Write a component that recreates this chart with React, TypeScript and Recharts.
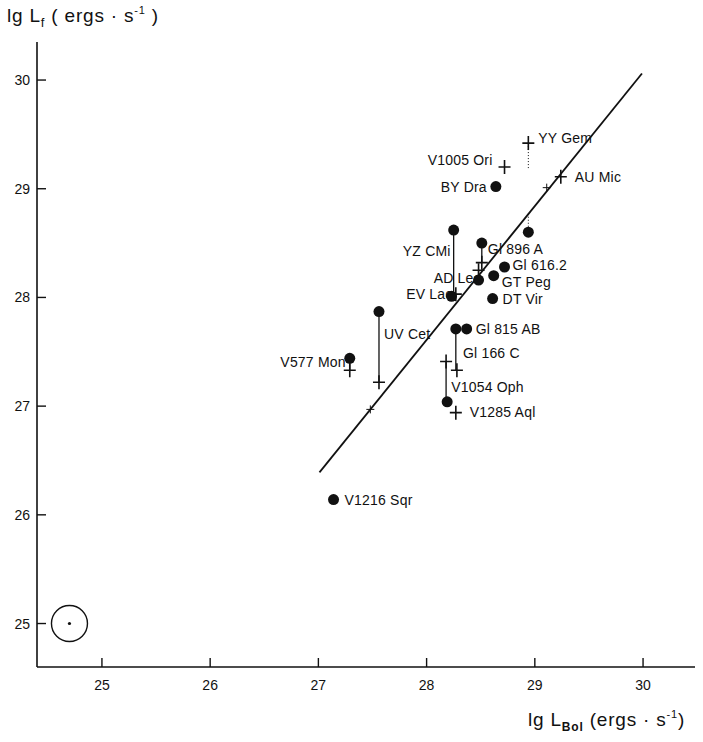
import React from "react";
import {
  ScatterChart,
  Scatter,
  XAxis,
  YAxis,
  ReferenceLine,
  Label,
} from "recharts";

// lg L_Bol (x) vs lg L_f (y)
const circleNames = [
  "BY Dra", "AU Mic", "YZ CMi", "Gl 896 A", "Gl 616.2", "AD Leo", "GT Peg",
  "EV Lac", "DT Vir", "UV Cet", "Gl 166 C", "Gl 815 AB", "V577 Mon",
  "V1054 Oph", "V1216 Sqr",
];
const circleX = [
  28.64, 28.94, 28.25, 28.51, 28.72, 28.48, 28.62,
  28.23, 28.61, 27.56, 28.27, 28.37, 27.29,
  28.19, 27.14,
];
const circleY = [
  29.02, 28.6, 28.62, 28.5, 28.28, 28.16, 28.2,
  28.01, 27.99, 27.87, 27.71, 27.71, 27.44,
  27.04, 26.14,
];

const crossNames = [
  "YY Gem", "V1005 Ori", "AU Mic", "Gl 896 A", "AD Leo", "EV Lac", "UV Cet",
  "V577 Mon", "Gl 166 C", "V1054 Oph", "V1285 Aql",
];
const crossX = [28.94, 28.72, 29.24, 28.51, 28.48, 28.27, 27.56, 27.29, 28.28, 28.18, 28.27];
const crossY = [29.42, 29.2, 29.11, 28.32, 28.25, 28.03, 27.22, 27.33, 27.33, 27.41, 26.94];

// small marks sitting on the regression line
const lineMarkX = [27.48, 29.11];
const lineMarkY = [26.97, 29.01];

// regression line end points
const fitX = [27.01, 29.99];
const fitY = [26.39, 30.06];

// vertical links between a star's circle and its cross
const linkNames = ["YZ CMi", "Gl 896 A", "AD Leo", "UV Cet", "Gl 166 C", "V1054 Oph", "V577 Mon", "YY Gem", "AU Mic"];
const linkX = [28.25, 28.51, 28.48, 27.56, 28.27, 28.18, 27.29, 28.94, 28.94];
const linkTop = [28.62, 28.5, 28.25, 27.87, 27.71, 27.41, 27.44, 29.42, 28.77];
const linkBottom = [28.0, 28.32, 28.16, 27.22, 27.33, 27.04, 27.33, 29.19, 28.6];
const linkDotted = ["YY Gem", "AU Mic"];

const xTicks = [25, 26, 27, 28, 29, 30];
const yTicks = [25, 26, 27, 28, 29, 30];

const circleData = circleNames.map((name, i) => ({ name, x: circleX[i], y: circleY[i] }));
const crossData = crossNames.map((name, i) => ({ name, x: crossX[i], y: crossY[i] }));
const lineMarkData = lineMarkX.map((x, i) => ({ x, y: lineMarkY[i] }));
const errorData = [{ x: 24.7, y: 25 }];

// label placement, keyed by marker kind + name
const labelPos: Record<string, { dx: number; dy: number; anchor: "start" | "end" }> = {
  "c:BY Dra": { dx: -9, dy: 5, anchor: "end" },
  "c:YZ CMi": { dx: -3, dy: 26, anchor: "end" },
  "c:Gl 896 A": { dx: 6, dy: 11, anchor: "start" },
  "c:Gl 616.2": { dx: 8, dy: 3, anchor: "start" },
  "c:AD Leo": { dx: 3, dy: 3, anchor: "end" },
  "c:GT Peg": { dx: 8, dy: 11, anchor: "start" },
  "c:EV Lac": { dx: 1, dy: 3, anchor: "end" },
  "c:DT Vir": { dx: 10, dy: 5, anchor: "start" },
  "c:UV Cet": { dx: 5, dy: 27, anchor: "start" },
  "c:Gl 815 AB": { dx: 9, dy: 5, anchor: "start" },
  "c:V577 Mon": { dx: -4, dy: 9, anchor: "end" },
  "c:V1054 Oph": { dx: 4, dy: -10, anchor: "start" },
  "c:V1216 Sqr": { dx: 11, dy: 5, anchor: "start" },
  "x:YY Gem": { dx: 10, dy: 0, anchor: "start" },
  "x:V1005 Ori": { dx: -12, dy: -2, anchor: "end" },
  "x:AU Mic": { dx: 14, dy: 5, anchor: "start" },
  "x:Gl 166 C": { dx: 6, dy: -12, anchor: "start" },
  "x:V1285 Aql": { dx: 14, dy: 4, anchor: "start" },
};

const FONT = "'Liberation Sans', Arial, sans-serif";
const INK = "#111";

function StarLabel({ id, cx, cy, name }: { id: string; cx: number; cy: number; name: string }) {
  const p = labelPos[id + ":" + name];
  if (!p) return null;
  return (
    <text
      x={cx + p.dx}
      y={cy + p.dy}
      textAnchor={p.anchor}
      fontSize={14}
      letterSpacing={0.2}
      fontFamily={FONT}
      fill={INK}
    >
      {name}
    </text>
  );
}

const CircleShape = (props: any) => {
  const { cx, cy, payload } = props;
  return (
    <g>
      <StarLabel id="c" cx={cx} cy={cy} name={payload.name} />
      <circle cx={cx} cy={cy} r={5.5} fill={INK} />
    </g>
  );
};

const CrossShape = (props: any) => {
  const { cx, cy, payload } = props;
  return (
    <g>
      <StarLabel id="x" cx={cx} cy={cy} name={payload.name} />
      <path d={`M${cx - 6},${cy}H${cx + 6}M${cx},${cy - 7}V${cy + 7}`} stroke={INK} strokeWidth={1.6} />
    </g>
  );
};

const SmallCross = (props: any) => {
  const { cx, cy } = props;
  return <path d={`M${cx - 4},${cy}H${cx + 4}M${cx},${cy - 4}V${cy + 4}`} stroke={INK} strokeWidth={1} />;
};

const ErrorShape = (props: any) => {
  const { cx, cy } = props;
  return (
    <g>
      <circle cx={cx} cy={cy} r={18} fill="none" stroke={INK} strokeWidth={1.4} />
      <circle cx={cx} cy={cy} r={1.6} fill={INK} />
    </g>
  );
};

const XTick = (props: any) => {
  const { x, y, payload } = props;
  return (
    <g>
      <line x1={x} y1={y} x2={x} y2={y - 9} stroke={INK} strokeWidth={1.4} />
      <text x={x} y={y + 23} textAnchor="middle" fontSize={14} fontFamily={FONT} fill={INK}>
        {payload.value}
      </text>
    </g>
  );
};

const YTick = (props: any) => {
  const { x, y, payload } = props;
  return (
    <g>
      <line x1={x} y1={y} x2={x + 9} y2={y} stroke={INK} strokeWidth={1.4} />
      <text x={x - 7} y={y + 5} textAnchor="end" fontSize={14} fontFamily={FONT} fill={INK}>
        {payload.value}
      </text>
    </g>
  );
};

export default function App() {
  return (
    <div style={{ position: "absolute", left: 0, top: 0, background: "#fff" }}>
      <ScatterChart width={703} height={742} margin={{ top: 42, right: 8, bottom: 0, left: 0 }}>
        <XAxis
          type="number"
          dataKey="x"
          domain={[24.4, 30.48]}
          ticks={xTicks}
          allowDataOverflow
          height={75}
          tickSize={0}
          tickMargin={0}
          tickLine={false}
          tick={<XTick />}
          axisLine={{ stroke: INK, strokeWidth: 1.6 }}
        >
          <Label
            content={() => (
              <text x={528} y={726} fontSize={19} letterSpacing={0.8} fontFamily={FONT} fill={INK}>
                lg L
                <tspan fontSize={12} fontWeight="bold" dy={5}>Bol</tspan>
                <tspan dy={-5}> (ergs · s</tspan>
                <tspan fontSize={11} dy={-8}>-1</tspan>
                <tspan dy={8}>)</tspan>
              </text>
            )}
          />
        </XAxis>
        <YAxis
          type="number"
          dataKey="y"
          domain={[24.6, 30.35]}
          ticks={yTicks}
          allowDataOverflow
          width={37}
          tickSize={0}
          tickMargin={0}
          tickLine={false}
          tick={<YTick />}
          axisLine={{ stroke: INK, strokeWidth: 1.6 }}
        >
          <Label
            content={() => (
              <text x={7} y={22} fontSize={19} letterSpacing={0.8} fontFamily={FONT} fill={INK}>
                lg L
                <tspan fontSize={13} dy={5}>f</tspan>
                <tspan dy={-5}> ( ergs · s</tspan>
                <tspan fontSize={11} dy={-8}>-1</tspan>
                <tspan dy={8}> )</tspan>
              </text>
            )}
          />
        </YAxis>

        <ReferenceLine
          segment={[{ x: fitX[0], y: fitY[0] }, { x: fitX[1], y: fitY[1] }]}
          stroke={INK}
          strokeWidth={1.8}
        />
        {linkNames.map((name, i) => (
          <ReferenceLine
            key={name}
            segment={[{ x: linkX[i], y: linkTop[i] }, { x: linkX[i], y: linkBottom[i] }]}
            stroke={INK}
            strokeWidth={linkDotted.includes(name) ? 1 : 1.3}
            strokeDasharray={linkDotted.includes(name) ? "1 2" : undefined}
          />
        ))}

        <Scatter data={lineMarkData} shape={<SmallCross />} isAnimationActive={false} />
        <Scatter data={crossData} shape={<CrossShape />} isAnimationActive={false} />
        <Scatter data={circleData} shape={<CircleShape />} isAnimationActive={false} />
        <Scatter data={errorData} shape={<ErrorShape />} isAnimationActive={false} />
      </ScatterChart>
    </div>
  );
}
